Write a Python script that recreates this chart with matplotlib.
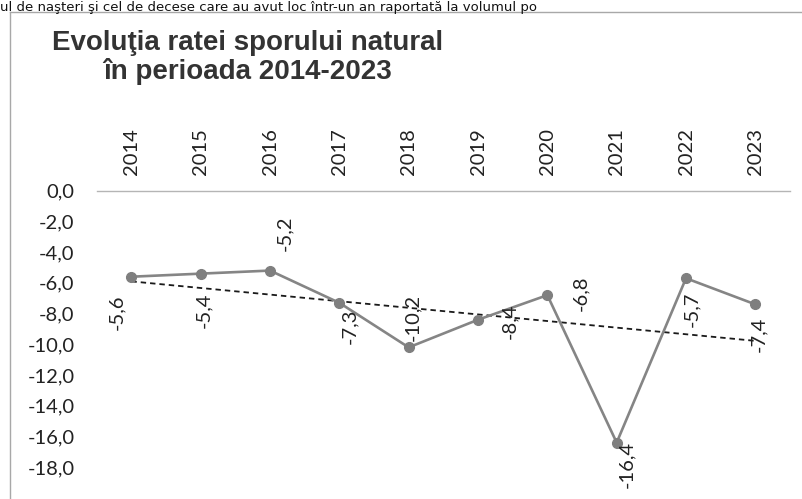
import matplotlib
matplotlib.use("Agg")
import matplotlib.pyplot as plt
import numpy as np

years = ["2014", "2015", "2016", "2017", "2018", "2019", "2020", "2021", "2022", "2023"]
rate = [-5.6, -5.4, -5.2, -7.3, -10.2, -8.4, -6.8, -16.4, -5.7, -7.4]
ytick_vals = [0, -2, -4, -6, -8, -10, -12, -14, -16, -18]

title = "Evoluţia ratei sporului natural\nîn perioada 2014-2023"
top_text = "ul de naşteri şi cel de decese care au avut loc într-un an raportată la volumul po"

# label offsets in pixels (dx right, dy down) – layout only
label_offsets = [(-15, 36), (3, 37), (15, -37), (10, 23), (4, -30),
                 (32, 2), (33, -2), (10, 22), (6, 31), (3, 30)]

W, H = 802, 499
fig = plt.figure(figsize=(W / 100, H / 100), dpi=100)
fig.patch.set_facecolor("white")

# chart frame lines (scan border)
frame_col = "#a8a8a8"
fig.add_artist(plt.Line2D([10 / W, 10 / W], [0, 1 - 12 / H], color=frame_col, lw=1.0,
                          transform=fig.transFigure))
fig.add_artist(plt.Line2D([10 / W, 1], [1 - 12 / H, 1 - 12 / H], color=frame_col, lw=1.0,
                          transform=fig.transFigure))

# text line of the page above the chart (kept fully inside the picture)
fig.text(0.0, 1 - 0.5 / H, top_text, ha="left", va="top", fontsize=9.5,
         family="DejaVu Sans", color="#111111")

tick_font = "Lato"
fs = 14.5
txt_col = "#222222"

y0 = 190.7
ppu = 15.36
ymin = -20.5
bottom_px = y0 + (-ymin) * ppu
ax = fig.add_axes([96.7 / W, 1 - bottom_px / H, (790 - 96.7) / W, (bottom_px - y0) / H])
ax.set_facecolor("none")

x = np.arange(len(years))
ax.plot(x, rate, color="#858585", lw=1.9, marker="o", markersize=7,
        markerfacecolor="#7f7f7f", markeredgecolor="#7f7f7f", zorder=3)

# linear trend line
coef = np.polyfit(x, rate, 1)
ax.plot(x, np.polyval(coef, x), color="#1a1a1a", lw=1.3, linestyle=(0, (3, 2.2)), zorder=2)

for i, v in enumerate(rate):
    dx, dy = label_offsets[i]
    ax.annotate(f"{v:.1f}".replace(".", ","), (x[i], v), xytext=(dx, -dy),
                textcoords="offset pixels", rotation=90, ha="center", va="center",
                fontsize=fs, family=tick_font, color=txt_col, zorder=4)

ax.set_xlim(-0.5, len(years) - 0.5)
ax.set_ylim(ymin, 0)
ax.xaxis.tick_top()
ax.set_xticks(x)
ax.set_xticklabels(years, rotation=90, fontsize=fs, family=tick_font, color=txt_col)
ax.set_yticks(ytick_vals)
ax.set_yticklabels([f"{v:.1f}".replace(".", ",") for v in ytick_vals],
                   fontsize=fs, family=tick_font, color=txt_col)
ax.tick_params(axis="x", length=0, pad=11)
ax.tick_params(axis="y", length=0, pad=16)
for s in ["left", "right", "bottom"]:
    ax.spines[s].set_visible(False)
ax.spines["top"].set_color("#b5b5b5")
ax.spines["top"].set_linewidth(1.0)

fig.text(248 / W, 1 - 30 / H, title, ha="center", va="top", fontsize=20,
         fontweight="bold", family="Liberation Sans", color="#333333", linespacing=1.1)

fig.savefig("out.png", dpi=100, facecolor="white")
